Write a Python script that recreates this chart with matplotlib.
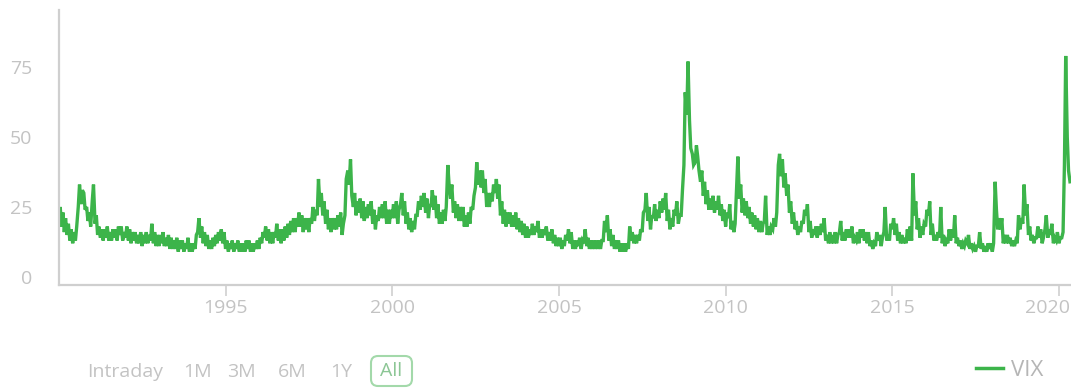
"""
VIX history chart, 1990 - 2020 (semi-monthly readings taken off the chart).
"""

import numpy as np
import pandas as pd
import matplotlib
matplotlib.use('Agg')
import matplotlib.pyplot as plt
import matplotlib.dates as mdates
from matplotlib.lines import Line2D
from matplotlib.patches import FancyBboxPatch
from matplotlib.transforms import ScaledTranslation


# ----------------------------------------------------------------------
# Data: two readings a month (1st and 15th), one list per year
# ----------------------------------------------------------------------
VIX_1990 = [20, 25, 18, 23, 16, 21, 15, 19, 13, 17, 12, 16, 13, 18, 25, 33, 26, 31, 30, 24, 25, 20, 23, 18]
VIX_1991 = [27, 33, 19, 22, 15, 18, 14, 17, 13, 17, 14, 18, 13, 16, 13, 17, 14, 17, 13, 18, 15, 18, 13, 16]
VIX_1992 = [14, 18, 13, 17, 12, 16, 13, 16, 12, 15, 12, 16, 11, 15, 12, 16, 12, 15, 13, 19, 12, 16, 11, 15]
VIX_1993 = [11, 15, 12, 16, 11, 14, 11, 15, 10, 14, 10, 13, 10, 14, 9, 13, 10, 13, 9, 12, 10, 14, 9, 12]
VIX_1994 = [9, 12, 10, 15, 16, 21, 14, 18, 12, 16, 11, 15, 10, 13, 10, 14, 11, 15, 12, 16, 13, 17, 12, 16]
VIX_1995 = [10, 13, 9, 12, 10, 13, 9, 12, 10, 13, 9, 12, 9, 12, 9, 13, 10, 13, 9, 12, 9, 12, 10, 13]
VIX_1996 = [10, 14, 12, 16, 14, 18, 13, 17, 12, 16, 12, 16, 14, 19, 13, 17, 12, 17, 13, 18, 14, 19, 15, 20]
VIX_1997 = [16, 21, 16, 21, 18, 23, 18, 22, 16, 21, 17, 21, 16, 21, 19, 25, 20, 24, 22, 35, 25, 30, 22, 27]
VIX_1998 = [19, 24, 17, 21, 16, 21, 17, 21, 17, 22, 18, 23, 15, 19, 22, 35, 38, 33, 42, 29, 25, 30, 22, 27]
VIX_1999 = [23, 28, 21, 27, 20, 25, 21, 26, 22, 27, 19, 24, 17, 22, 20, 25, 21, 26, 21, 27, 19, 24, 19, 24]
VIX_2000 = [21, 26, 21, 27, 19, 24, 26, 30, 22, 27, 19, 23, 17, 21, 16, 20, 17, 22, 22, 27, 24, 29, 25, 30]
VIX_2001 = [23, 28, 21, 26, 25, 31, 24, 29, 21, 26, 19, 23, 19, 24, 20, 25, 40, 33, 28, 33, 23, 27, 21, 26]
VIX_2002 = [20, 25, 20, 25, 18, 22, 18, 23, 19, 25, 24, 29, 32, 41, 33, 38, 32, 38, 30, 35, 25, 30, 25, 30]
VIX_2003 = [27, 33, 30, 35, 28, 33, 22, 27, 19, 24, 18, 23, 19, 23, 18, 22, 18, 23, 17, 21, 16, 20, 15, 19]
VIX_2004 = [14, 18, 14, 17, 15, 19, 15, 18, 16, 20, 14, 17, 14, 17, 15, 18, 13, 16, 13, 17, 12, 15, 11, 14]
VIX_2005 = [11, 14, 10, 13, 11, 15, 13, 17, 12, 16, 10, 13, 10, 13, 11, 14, 10, 13, 12, 17, 11, 14, 10, 13]
VIX_2006 = [10, 13, 10, 13, 10, 13, 10, 13, 13, 20, 16, 22, 13, 17, 11, 15, 10, 13, 10, 13, 9, 12, 9, 12]
VIX_2007 = [9, 12, 10, 18, 13, 16, 12, 15, 12, 15, 13, 17, 16, 23, 24, 30, 20, 25, 17, 22, 21, 26, 20, 24]
VIX_2008 = [21, 27, 23, 28, 24, 30, 20, 24, 17, 21, 18, 24, 22, 27, 19, 22, 22, 31, 40, 66, 58, 77, 56, 46]
VIX_2009 = [44, 40, 41, 47, 43, 38, 34, 38, 29, 34, 26, 31, 24, 28, 24, 29, 23, 27, 24, 29, 22, 26, 20, 24]
VIX_2010 = [18, 23, 21, 26, 17, 20, 16, 19, 32, 43, 28, 33, 23, 28, 22, 27, 21, 25, 19, 23, 18, 22, 17, 21]
VIX_2011 = [16, 20, 16, 19, 20, 29, 15, 18, 15, 18, 17, 21, 18, 23, 40, 44, 36, 42, 32, 37, 29, 33, 23, 27]
VIX_2012 = [19, 23, 17, 20, 15, 18, 16, 20, 19, 24, 22, 26, 16, 20, 14, 17, 15, 18, 14, 18, 15, 19, 16, 21]
VIX_2013 = [13, 15, 12, 16, 12, 15, 12, 16, 12, 15, 16, 20, 13, 16, 13, 17, 14, 17, 14, 18, 12, 14, 13, 16]
VIX_2014 = [12, 17, 14, 17, 13, 16, 12, 16, 11, 13, 10, 12, 11, 16, 13, 15, 11, 14, 16, 25, 13, 15, 13, 19]
VIX_2015 = [17, 21, 15, 19, 13, 16, 12, 15, 12, 14, 12, 17, 13, 18, 13, 37, 22, 27, 17, 21, 14, 18, 15, 19]
VIX_2016 = [18, 24, 22, 27, 15, 19, 13, 15, 13, 16, 14, 25, 12, 15, 11, 13, 12, 17, 13, 17, 14, 22, 12, 14]
VIX_2017 = [11, 13, 10, 12, 11, 13, 12, 15, 10, 12, 10, 11, 9, 11, 11, 16, 10, 12, 9, 11, 9, 12, 10, 12]
VIX_2018 = [9, 12, 34, 24, 17, 21, 17, 21, 12, 15, 12, 15, 12, 14, 11, 13, 11, 13, 12, 22, 17, 21, 19, 33]
VIX_2019 = [22, 26, 15, 18, 13, 15, 12, 14, 14, 18, 14, 17, 12, 14, 17, 22, 14, 17, 15, 19, 12, 14, 13, 16]
VIX_2020 = [12, 14, 14, 16, 40, 79, 50, 38, 34]

YEARS = [VIX_1990, VIX_1991, VIX_1992, VIX_1993, VIX_1994, VIX_1995, VIX_1996,
         VIX_1997, VIX_1998, VIX_1999, VIX_2000, VIX_2001, VIX_2002, VIX_2003,
         VIX_2004, VIX_2005, VIX_2006, VIX_2007, VIX_2008, VIX_2009, VIX_2010,
         VIX_2011, VIX_2012, VIX_2013, VIX_2014, VIX_2015, VIX_2016, VIX_2017,
         VIX_2018, VIX_2019, VIX_2020]

Y_TICKS = [0, 25, 50, 75]
X_TICK_YEARS = [1995, 2000, 2005, 2010, 2015, 2020]
RANGE_BUTTONS = ["Intraday", "1M", "3M", "6M", "1Y"]

GREEN = '#3cb44a'
GREY = '#c3c3c3'
AXIS = '#cfcfcf'


def build_series():
    vix = np.concatenate([np.array(y, dtype=float) for y in YEARS])
    dates = pd.date_range('1990-01-01', periods=len(vix), freq='SMS')
    return dates, vix


def main():
    plt.rcParams['font.family'] = ['Open Sans', 'DejaVu Sans']
    dates, vix = build_series()

    fig = plt.figure(figsize=(10.71, 3.88), dpi=100)
    ax = fig.add_axes([0.055, 0.2655, 0.945, 0.7085])

    ax.plot(dates, vix, color=GREEN, linewidth=2.4, solid_joinstyle='miter')

    ax.set_xlim(pd.Timestamp('1990-01-01'), pd.Timestamp('2020-05-12'))
    ax.set_ylim(-2.9, 95.4)

    ax.set_yticks(Y_TICKS)
    ax.set_xticks([pd.Timestamp(f'{y}-01-01') for y in X_TICK_YEARS])
    ax.xaxis.set_major_formatter(mdates.DateFormatter('%Y'))

    for side in ('top', 'right'):
        ax.spines[side].set_visible(False)
    for side in ('left', 'bottom'):
        ax.spines[side].set_color(AXIS)
        ax.spines[side].set_linewidth(1.6)

    ax.tick_params(axis='y', length=0, pad=19, labelsize=14, labelcolor=GREY)
    ax.tick_params(axis='x', length=8, width=1.2, color=AXIS, pad=2,
                   labelsize=14, labelcolor=GREY)

    # last year label is nudged left so it stays inside the picture
    last = ax.get_xticklabels()[-1]
    last.set_transform(last.get_transform() + ScaledTranslation(-0.11, 0, fig.dpi_scale_trans))

    # range selector under the chart
    xs = [0.081, 0.171, 0.212, 0.259, 0.308]
    for x, label in zip(xs, RANGE_BUTTONS):
        fig.text(x, 0.04, label, fontsize=14, color=GREY, va='center', ha='left')
    box = FancyBboxPatch((371, 2), 41, 30, boxstyle='round,pad=0,rounding_size=7',
                         transform=None, facecolor='white', edgecolor='#a3d9aa',
                         linewidth=1.5)
    fig.patches.append(box)
    fig.text(391.5 / 1071, 0.043, "All", fontsize=14, color='#8cc695',
             va='center', ha='center')

    handle = Line2D([], [], color=GREEN, linewidth=2.5)
    fig.legend([handle], ["VIX"], loc='center right', bbox_to_anchor=(0.993, 0.045),
               frameon=False, fontsize=16, labelcolor='#b5b5b5',
               handlelength=1.25, handletextpad=0.35)

    fig.savefig('out.png', dpi=100)
    plt.close(fig)


if __name__ == "__main__":
    main()
